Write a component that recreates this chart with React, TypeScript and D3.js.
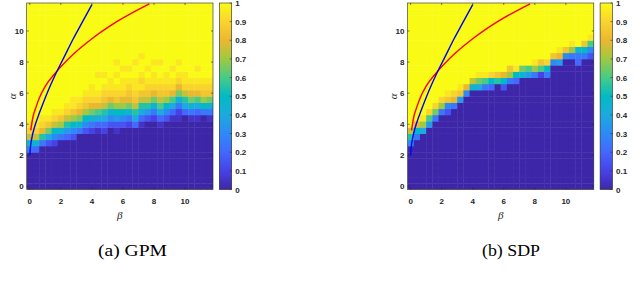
import React from 'react';
import * as d3 from 'd3';

// grid coordinates (cell centres) for beta (columns) and alpha (rows)
const BETA = [0, 0.4, 0.8, 1.2, 1.6, 2, 2.4, 2.8, 3.2, 3.6, 4, 4.4, 4.8, 5.2, 5.6, 6, 6.4, 6.8, 7.2, 7.6, 8, 8.4, 8.8, 9.2, 9.6, 10, 10.4, 10.8, 11.2, 11.6];
const ALPHA = [0, 0.4, 0.8, 1.2, 1.6, 2, 2.4, 2.8, 3.2, 3.6, 4, 4.4, 4.8, 5.2, 5.6, 6, 6.4, 6.8, 7.2, 7.6, 8, 8.4, 8.8, 9.2, 9.6, 10, 10.4, 10.8, 11.2, 11.6];

const AXIS_TICKS = [0, 2, 4, 6, 8, 10];
const CBAR_TICKS = [0, 0.1, 0.2, 0.3, 0.4, 0.5, 0.6, 0.7, 0.8, 0.9, 1];

// success rate per cell, one string per beta column, read bottom (alpha=0) to top.
// each char is value*20: '0'..'9' then 'A'(0.5) .. 'K'(1)
const CODES = '0123456789ABCDEFGHIJK';

const GPM_COLS = [
  '0000005AFIJKKKKKKKKKKKKKKKKKKK',
  '00000049FIJKKKKKKKKKKKKKKKKKKK',
  '00000005BGIJKKKKKKKKKKKKKKKKKK',
  '000000038DHJKKKKKKKKKKKKKKKKKK',
  '000000026AFIJKKKKKKKKKKKKKKKKK',
  '0000000059EHJKKKKKKKKKKKKKKKKK',
  '0000000047BFIJKKKKKKKKKKKKKKKK',
  '0000000036AEHJJKKKKKKKKKKKKKKK',
  '00000000059DGIJKKKKKKKKKKKKKKK',
  '00000000036AEHIJKKKKKKKKKKKKKK',
  '000000000259DGIJJKKKKKKKKKKKKK',
  '000000000148CGIJKKJKKKKKKKKKKK',
  '000000000248BFHIJKJKKKKKKKKKKK',
  '0000000000369DGIJJKKKKKKKKKKKK',
  '000000000137AEHIJKJKJKKKKKKKKK',
  '000000000036AEGIJJKJKKKKKKKKKK',
  '0000000000259DGHIJKJKKKKKKKKKK',
  '000000000048BFHIJJKKJKKKKKKKKK',
  '0000000000148BFHJIJKKJKKKKKKKK',
  '0000000000037BFHIJKJKKKKKKKKKK',
  '00000000000259DGIJJKJKKKKKKKKK',
  '0000000000148CFHIJKKJKKKKKKKKK',
  '0000000000036AEHIJJKKKKKKKKKKK',
  '00000000000148CGIJKJKKKKKKKKKK',
  '000000000001259DGIJKJKKKKKKKKK',
  '00000000000048BFIJJKKKKKKKKKKK',
  '00000000000159DGIJKKKKKKKKKKKK',
  '00000000000148CGIJKJKKKKKKKKKK',
  '0000000000005AEHIJKKKKKKKKKKKK',
  '00000000000159DHIJKKKKKKKKKKKK',
];

const SDP_COLS = [
  '00000006BFKKKKKKKKKKKKKKKKKKKK',
  '000000005AGKKKKKKKKKKKKKKKKKKK',
  '0000000008EJKKKKKKKKKKKKKKKKKK',
  '00000000007CIKKKKKKKKKKKKKKKKK',
  '000000000005DIKKKKKKKKKKKKKKKK',
  '0000000000005EIKKKKKKKKKKKKKKK',
  '00000000000036HJKKKKKKKKKKKKKK',
  '00000000000005GIKKKKKKKKKKKKKK',
  '000000000000007HJKKKKKKKKKKKKK',
  '0000000000000006GKKKKKKKKKKKKK',
  '00000000000000009FKKKKKKKKKKKK',
  '00000000000000008DJKKKKKKKKKKK',
  '00000000000000005CJKKKKKKKKKKK',
  '00000000000000004AIKKKKKKKKKKK',
  '00000000000000000BHKKKKKKKKKKK',
  '00000000000000003AGKKKKKKKKKKK',
  '000000000000000005EHKKKKKKKKKK',
  '000000000000000004AJKKKKKKKKKK',
  '0000000000000000009DKKKKKKKKKK',
  '0000000000000000007CKKKKKKKKKK',
  '0000000000000000005EJKKKKKKKKK',
  '0000000000000000002CHKKKKKKKKK',
  '0000000000000000005AIKKKKKKKKK',
  '000000000000000000006HKKKKKKKK',
  '000000000000000000007GJKKKKKKK',
  '0000000000000000000006HKKKKKKK',
  '0000000000000000000005EJKKKKKK',
  '00000000000000000000459KKKKKKK',
  '0000000000000000000005AHKKKKKK',
  '00000000000000000000036CJKKKKK',
];

// threshold curves (beta, alpha)
const BLUE_CURVE: [number, number][] = [
  [0, 2.0], [0.05, 2.6], [0.15, 3.2], [0.3, 3.8], [0.5, 4.4], [0.8, 5.2], [1.2, 6.2],
  [1.65, 7.2], [2.2, 8.3], [2.8, 9.5], [3.4, 10.6], [4.0, 11.7],
];
const RED_CURVE: [number, number][] = [
  [0.06, 3.6], [0.19, 4.4], [0.4, 5.1], [0.62, 5.7], [1.0, 6.45], [1.65, 7.3],
  [2.8, 8.5], [4.0, 9.5], [5.6, 10.6], [7.7, 11.75],
];

// MATLAB parula anchors
const PARULA = [
  '#3e26a8', '#4742e6', '#4467fd', '#2d8af5', '#1caadf', '#02bac4',
  '#48cb86', '#9fc942', '#eab830', '#fad42e', '#f9fb15',
];
const parula = d3.scaleLinear<string>()
  .domain(CBAR_TICKS)
  .range(PARULA)
  .interpolate(d3.interpolateRgb)
  .clamp(true);

const TOP = 3;
const BOTTOM = 189.5;
const PW = 186.3;
const INK = '#262626';
const LABEL_FONT = '"Liberation Sans", Arial, Helvetica, sans-serif';
const SERIF = '"Liberation Serif", "DejaVu Serif", serif';

function Panel({ left, cols, caption, captionX, captionW, gid }: {
  left: number; cols: string[]; caption: string; captionX: number; captionW: number; gid: string;
}) {
  const x = d3.scaleLinear().domain([-0.2, 11.8]).range([left, left + PW]);
  const y = d3.scaleLinear().domain([-0.2, 11.8]).range([BOTTOM, TOP]);
  const cw = x(0.4) - x(0);
  const ch = y(0) - y(0.4);
  const right = left + PW;

  const line = d3.line<[number, number]>()
    .x(d => x(d[0]))
    .y(d => y(d[1]))
    .curve(d3.curveMonotoneX);

  const cbL = right + 6.3;
  const cbW = 12.4;
  const cy = d3.scaleLinear().domain([0, 1]).range([BOTTOM, TOP]);

  return (
    <g>
      <defs>
        <clipPath id={`clip-${gid}`}>
          <rect x={left} y={TOP} width={PW} height={BOTTOM - TOP} />
        </clipPath>
        <linearGradient id={`grad-${gid}`} x1="0" y1="1" x2="0" y2="0">
          {PARULA.map((c, i) => (
            <stop key={i} offset={`${i * 10}%`} stopColor={c} />
          ))}
        </linearGradient>
      </defs>
      <g clipPath={`url(#clip-${gid})`}>
        {cols.map((col, i) =>
          col.split('').map((c, j) => (
            <rect
              key={`${i}-${j}`}
              x={x(BETA[i] - 0.2)}
              y={y(ALPHA[j] + 0.2)}
              width={cw + 0.4}
              height={ch + 0.4}
              fill={parula(CODES.indexOf(c) / 20)}
            />
          ))
        )}
        <path d={line(RED_CURVE) ?? ''} fill="none" stroke="#ff0000" strokeWidth={1.4} />
        <path d={line(BLUE_CURVE) ?? ''} fill="none" stroke="#0000ff" strokeWidth={1.4} />
      </g>
      <rect x={left} y={TOP} width={PW} height={BOTTOM - TOP} fill="none" stroke={INK} strokeWidth={0.6} />
      {AXIS_TICKS.map(t => (
        <g key={`t${t}`} stroke={INK} strokeWidth={0.6}>
          <line x1={x(t)} x2={x(t)} y1={BOTTOM} y2={BOTTOM - 2} />
          <line x1={x(t)} x2={x(t)} y1={TOP} y2={TOP + 2} />
          <line x1={left} x2={left + 2} y1={y(t)} y2={y(t)} />
          <line x1={right} x2={right - 2} y1={y(t)} y2={y(t)} />
        </g>
      ))}
      <g fontFamily={LABEL_FONT} fontSize={8} fontWeight="bold" fill={INK}>
        {AXIS_TICKS.map(t => (
          <text key={`xl${t}`} x={x(t)} y={203.5} textAnchor="middle">{t}</text>
        ))}
        {AXIS_TICKS.map(t => (
          <text key={`yl${t}`} x={left - 3} y={y(t) + 3} textAnchor="end">{t}</text>
        ))}
        {CBAR_TICKS.map(t => (
          <text key={`cl${t}`} x={cbL + cbW + 3.5} y={cy(t) + 3}>{t}</text>
        ))}
      </g>
      <text x={(left + right) / 2} y={219.4} textAnchor="middle" fontFamily={SERIF} fontStyle="italic" fontSize={11} fill={INK}>β</text>
      <text transform={`translate(${left - 13.5},${(TOP + BOTTOM) / 2}) rotate(-90)`} textAnchor="middle" dominantBaseline="middle" fontFamily={SERIF} fontStyle="italic" fontSize={11} fill={INK}>α</text>
      <rect x={cbL} y={TOP} width={cbW} height={BOTTOM - TOP} fill={`url(#grad-${gid})`} stroke={INK} strokeWidth={0.6} />
      {CBAR_TICKS.map(t => (
        <line key={`ct${t}`} x1={cbL + cbW} x2={cbL + cbW - 2} y1={cy(t)} y2={cy(t)} stroke={INK} strokeWidth={0.6} />
      ))}
      <text x={captionX} y={256} textAnchor="middle" fontFamily={SERIF} fontSize={16} fill="#000" textLength={captionW} lengthAdjust="spacingAndGlyphs">{caption}</text>
    </g>
  );
}

export default function App() {
  return (
    <svg width={640} height={283} style={{ position: 'absolute', left: 0, top: 0, background: '#fff' }}>
      <rect width={640} height={283} fill="#fff" />
      <Panel left={26.7} cols={GPM_COLS} caption="(a) GPM" captionX={132.5} captionW={69} gid="gpm" />
      <Panel left={407.5} cols={SDP_COLS} caption="(b) SDP" captionX={511} captionW={58} gid="sdp" />
    </svg>
  );
}
